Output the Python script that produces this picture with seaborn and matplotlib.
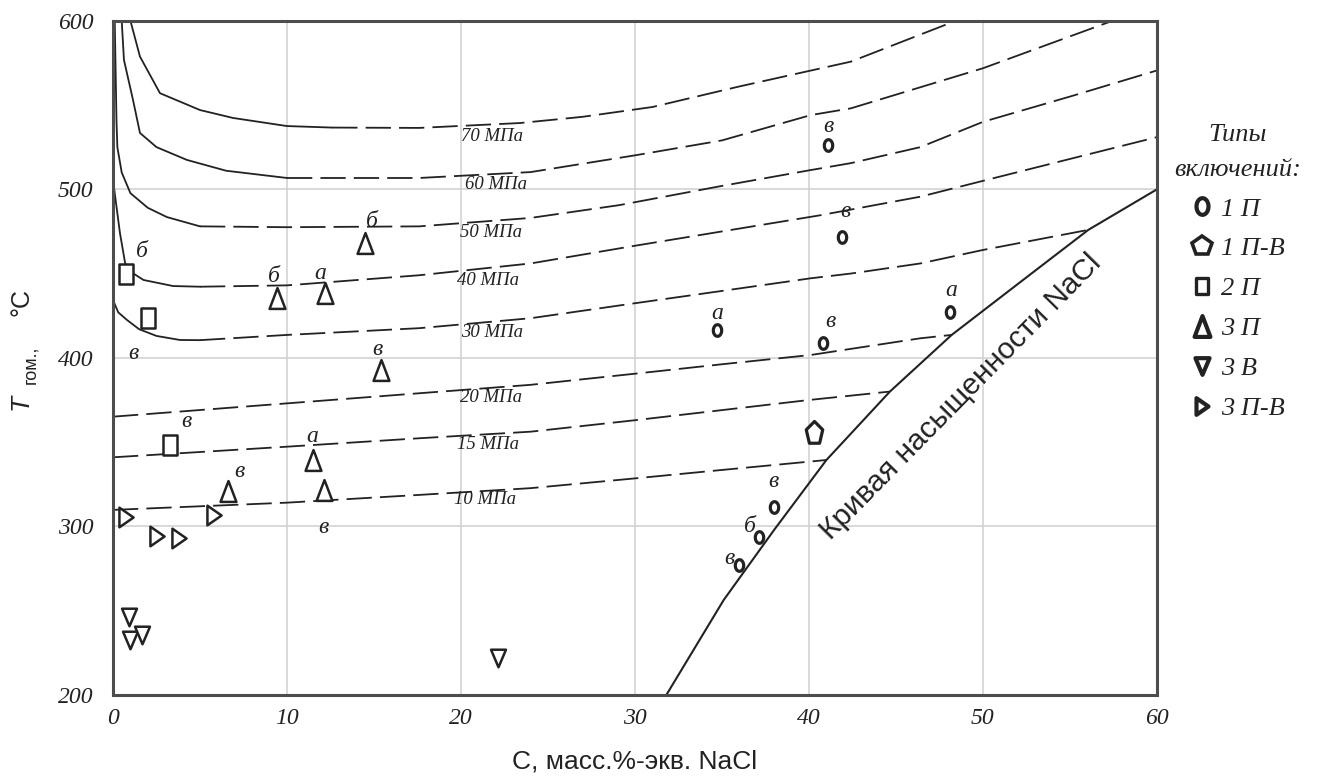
import numpy as np
import matplotlib
matplotlib.use("Agg")
import matplotlib.pyplot as plt
from matplotlib.path import Path
from matplotlib.lines import Line2D
from matplotlib.font_manager import FontProperties
import seaborn as sns

sns.set_theme(style="white")
plt.rcParams['font.family'] = ['Liberation Serif', 'DejaVu Serif']

# --- изохоры: сплошная часть и пунктир (C, масс.% ; T, °C)
p70_sx = [1.0, 1.55, 2.7, 5.0, 6.9, 10.0, 12.6]
p70_sy = [600, 578.7, 557, 547, 542.3, 537.5, 536.6]
p70_dx = [12.6, 17.6, 23.4, 27.0, 31.0, 36.0, 42.4, 48.3]
p70_dy = [536.6, 536.4, 539.3, 543, 548.8, 561, 575.7, 599.4]

p60_sx = [0.5, 0.63, 1.15, 1.55, 2.5, 4.25, 6.5, 10.0]
p60_sy = [600, 576.7, 553, 533.4, 525, 517.4, 511, 506.7]
p60_dx = [10.0, 17.6, 24.0, 30.1, 35.0, 40.1, 42.4, 50.0, 57.3]
p60_dy = [506.7, 506.7, 510.2, 520.3, 529, 544, 548, 571.8, 599.4]

p50_sx = [0.1, 0.2, 0.25, 0.5, 1.0, 2.0, 3.1, 5.0]
p50_sy = [600, 541, 525, 510, 497.7, 489, 483.5, 478]
p50_dx = [5.0, 10.0, 17.6, 24.0, 29.1, 35.0, 40.1, 42.4, 46.4, 50.0, 55.0, 60.1]
p50_dy = [478, 477.5, 478, 483, 490.6, 502, 511.4, 515.5, 525, 540, 555, 570.8]

p40_sx = [0.0, 0.2, 0.4, 0.7, 1.15, 1.75, 3.45, 5.0]
p40_sy = [505.6, 489.7, 474, 456, 450.2, 446.2, 442.6, 442.2]
p40_dx = [5.0, 10.0, 17.6, 24.0, 30.0, 35.0, 40.6, 46.4, 50.0, 55.0, 60.1]
p40_dy = [442.2, 443, 449, 456, 466.5, 475, 484.5, 495.6, 505, 518, 531.2]

p30_sx = [0.0, 0.3, 0.8, 1.5, 2.5, 3.85, 5.0]
p30_sy = [434.3, 427, 422.5, 417, 413, 410.6, 410.5]
p30_dx = [5.0, 10.0, 17.6, 24.0, 30.0, 35.0, 40.1, 42.4, 46.4, 50.0, 56.05]
p30_dy = [410.5, 413.6, 417.6, 423.5, 432.4, 439.7, 447.2, 450, 456, 464, 475.9]

p20_dx = [0.0, 10.0, 17.6, 24.0, 30.0, 35.0, 40.1, 46.4, 48.2]
p20_dy = [365.1, 373, 379, 384, 390.6, 396.2, 401.7, 411.6, 413.6]

p15_dx = [0.0, 10.0, 17.6, 24.0, 30.0, 35.0, 40.0, 44.65]
p15_dy = [341, 347.3, 352.3, 356.2, 363, 369, 375, 380]

p10_dx = [0.0, 10.0, 17.6, 24.0, 30.0, 35.0, 41.0]
p10_dy = [309.8, 314.1, 318.7, 322.7, 328.5, 333.5, 339.4]

# кривая насыщенности NaCl
sat_x = [31.8, 35.1, 38.0, 41.0, 44.65, 48.2, 52.0, 56.05, 60.1, 61.0]
sat_y = [200, 256.4, 298, 339.4, 380, 413.6, 443.8, 475.9, 500.6, 506]

iso_names = ['70 МПа', '60 МПа', '50 МПа', '40 МПа', '30 МПа', '20 МПа', '15 МПа', '10 МПа']
iso_lab_x = [21.8, 22.0, 21.7, 21.55, 21.8, 21.7, 21.55, 21.4]
iso_lab_y = [531.6, 502.8, 474.4, 445.8, 415.0, 376.5, 348.6, 316.0]

# --- включения
c1p_x = [41.1, 41.9, 34.7, 40.8, 48.1, 38.0, 37.1, 36.0]
c1p_y = [526.3, 471.7, 416.5, 408.7, 427.4, 311.7, 293.6, 277.2]
c1pv_x = [40.3]
c1pv_y = [355.3]
c2p_x = [0.74, 2.0, 3.3]
c2p_y = [449.6, 423.5, 348.3]
c3p_x = [14.5, 9.4, 12.2, 15.4, 11.5, 12.1, 6.6]
c3p_y = [468.0, 435.4, 438.3, 392.8, 339.4, 321.6, 321.2]
c3v_x = [0.94, 1.0, 1.65, 22.1]
c3v_y = [246.5, 232.7, 235.6, 221.7]
c3pv_x = [0.75, 2.5, 3.8, 5.8]
c3pv_y = [305.5, 294.4, 293.0, 306.8]

# буквенные подписи
let_txt = ['в', 'в', 'а', 'в', 'а', 'в', 'б', 'в', 'б', 'в', 'в', 'б', 'б', 'а', 'в', 'а', 'в', 'в']
let_x = [41.1, 42.1, 34.7, 41.25, 48.2, 37.95, 36.6, 35.4, 1.65, 1.17, 4.2,
         14.87, 9.25, 11.9, 15.2, 11.45, 12.1, 7.26]
let_y = [537.1, 486.7, 426.4, 421.5, 439.9, 326.6, 299.9, 281.1, 463.0, 402.7, 362.2,
         480.8, 448.2, 449.8, 405.1, 353.3, 299.5, 332.5]

leg_labels = ['1 П', '1 П-В', '2 П', '3 П', '3 В', '3 П-В']

# формы маркеров (вытянутые по вертикали, как на рисунке)
t = np.linspace(0, 2 * np.pi, 41)
m_circ = Path(np.c_[0.72 * np.sin(t), np.cos(t)], closed=True)
ang = np.deg2rad(90 + 72 * np.arange(6))
m_pent = Path(np.c_[0.72 * np.cos(ang), np.sin(ang)], closed=True)
m_rect = Path([(-0.68, -1), (0.68, -1), (0.68, 1), (-0.68, 1), (-0.68, -1)], closed=True)
m_up = Path([(0, 1), (-0.76, -1), (0.76, -1), (0, 1)], closed=True)
m_down = Path([(0, -1), (-0.85, 1), (0.85, 1), (0, -1)], closed=True)
m_right = Path([(0.72, 0), (-0.72, 1), (-0.72, -1), (0.72, 0)], closed=True)

ink = '#222222'

fig = plt.figure(figsize=(13.28, 7.81), dpi=100)
ax = fig.add_axes([113 / 1328, 1 - 695 / 781, 1044 / 1328, 674.3 / 781])

dash = (0, (14, 4.5))
solid_parts = [(p70_sx, p70_sy), (p60_sx, p60_sy), (p50_sx, p50_sy),
               (p40_sx, p40_sy), (p30_sx, p30_sy)]
dash_parts = [(p70_dx, p70_dy), (p60_dx, p60_dy), (p50_dx, p50_dy), (p40_dx, p40_dy),
              (p30_dx, p30_dy), (p20_dx, p20_dy), (p15_dx, p15_dy), (p10_dx, p10_dy)]
for xs, ys in solid_parts:
    sns.lineplot(x=xs, y=ys, ax=ax, sort=False, estimator=None, color=ink, lw=1.3)
for xs, ys in dash_parts:
    sns.lineplot(x=xs, y=ys, ax=ax, sort=False, estimator=None, color=ink, lw=1.3,
                 linestyle=dash)
sns.lineplot(x=sat_x, y=sat_y, ax=ax, sort=False, estimator=None, color=ink, lw=1.5)

for name, lx, ly in zip(iso_names, iso_lab_x, iso_lab_y):
    ax.text(lx, ly, name, fontsize=13.5, style='italic', color=ink,
            ha='center', va='center')

groups = [
    (c1p_x, c1p_y, m_circ, 70, 2.3),
    (c1pv_x, c1pv_y, m_pent, 300, 2.3),
    (c2p_x, c2p_y, m_rect, 225, 1.8),
    (c3p_x, c3p_y, m_up, 225, 1.8),
    (c3v_x, c3v_y, m_down, 160, 1.8),
    (c3pv_x, c3pv_y, m_right, 200, 1.8),
]
for xs, ys, mk, sz, lw in groups:
    sns.scatterplot(x=xs, y=ys, ax=ax, marker=mk, s=sz, facecolor='white',
                    edgecolor=ink, linewidth=lw, zorder=5)

for s_, lx, ly in zip(let_txt, let_x, let_y):
    ax.text(lx, ly, s_, fontsize=17, style='italic', color=ink,
            ha='center', va='center', zorder=6)

ax.text(48.7, 376.8, 'Кривая насыщенности NaCl', fontsize=21.5, color=ink,
        family='Liberation Sans', rotation=45.5, rotation_mode='anchor',
        ha='center', va='center')

ax.set_xlim(0, 60)
ax.set_ylim(200, 600)
ax.set_xticks(range(0, 61, 10))
ax.set_yticks(range(200, 601, 100))
ax.grid(True, color='#cfcfcf', lw=1.1)
ax.tick_params(length=0)
ax.tick_params(axis='y', pad=14)
ax.tick_params(axis='x', pad=9)
for lab in ax.get_xticklabels() + ax.get_yticklabels():
    lab.set_fontstyle('italic')
    lab.set_fontsize(17)
    lab.set_color(ink)
for sp in ax.spines.values():
    sp.set_color('#4d4d4d')
    sp.set_linewidth(2.2)

ax.set_xlabel('C, масс.%-экв. NaCl', family='Liberation Sans', fontsize=19,
              color=ink, labelpad=15)
ax.set_ylabel('')
fig.text(20.5 / 1328, 1 - 401.7 / 781, 'T', family='Liberation Sans', style='italic',
         fontsize=19, rotation=90, ha='center', va='center', color=ink)
fig.text(31 / 1328, 1 - 365 / 781, 'гом.,', family='Liberation Sans',
         fontsize=13, rotation=90, ha='center', va='center', color=ink)
fig.text(21 / 1328, 1 - 301.7 / 781, '°C', family='Liberation Sans',
         fontsize=18, rotation=90, ha='center', va='center', color=ink)

# легенда
leg_marks = [(m_circ, 12, 3.0), ('p', 15, 2.6), (m_rect, 12, 2.4),
             (m_up, 15, 3.0), (m_down, 12, 3.0), (m_right, 12, 3.0)]
handles = [Line2D([], [], ls='none', marker=mk, markersize=ms, mew=mw,
                  mec=ink, mfc='white') for mk, ms, mw in leg_marks]
lp = FontProperties(family='Liberation Serif', style='italic', size=19)
leg = fig.legend(handles, leg_labels, loc='upper left',
                 bbox_to_anchor=(1174 / 1328, 1 - 124 / 781),
                 frameon=False, prop=lp, title='Типы\nвключений:',
                 title_fontproperties=lp, handlelength=0.9, handletextpad=0.3,
                 labelspacing=0.62, borderpad=0, borderaxespad=0)
leg.get_title().set_color(ink)
leg.get_title().set_linespacing(1.75)
leg.get_title().set_multialignment('center')
for tx in leg.get_texts():
    tx.set_color(ink)

fig.savefig('out.png', dpi=100)
